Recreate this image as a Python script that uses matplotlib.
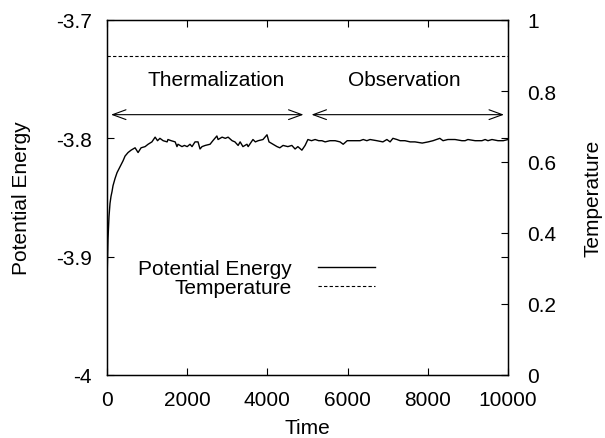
import matplotlib
matplotlib.use("Agg")
import matplotlib.pyplot as plt
from matplotlib.ticker import FormatStrFormatter

plt.rcParams['font.family'] = ['Liberation Sans', 'DejaVu Sans']
plt.rcParams['axes.unicode_minus'] = False

# ---- data ----
time = [0, 25, 50, 75, 100, 125, 150, 200, 250, 325,
        400, 450, 525, 600, 650, 700, 775, 850, 950, 1025,
        1120, 1200, 1260, 1320, 1400, 1500, 1520, 1600, 1700, 1745,
        1770, 1870, 1930, 2000, 2070, 2120, 2195, 2270, 2320, 2370,
        2450, 2570, 2640, 2740, 2770, 2870, 2950, 3020, 3120, 3190,
        3270, 3320, 3390, 3490, 3520, 3640, 3700, 3770, 3890, 3990,
        4040, 4140, 4240, 4310, 4390, 4510, 4610, 4690, 4760, 4860,
        4940, 5010, 5100, 5190, 5280, 5360, 5440, 5560, 5690, 5810,
        5890, 5990, 6140, 6310, 6390, 6480, 6560, 6730, 6880, 6980,
        7060, 7130, 7230, 7310, 7430, 7560, 7680, 7860, 8010, 8130,
        8300, 8380, 8500, 8680, 8850, 8930, 9000, 9180, 9350, 9430,
        9500, 9600, 9750, 9880, 10000]
energy = [-3.922, -3.885, -3.866, -3.855, -3.849, -3.845, -3.840, -3.834, -3.829, -3.824,
          -3.819, -3.815, -3.812, -3.810, -3.809, -3.808, -3.812, -3.808, -3.807, -3.805,
          -3.803, -3.799, -3.802, -3.800, -3.802, -3.803, -3.801, -3.802, -3.803, -3.807,
          -3.805, -3.807, -3.806, -3.807, -3.805, -3.807, -3.803, -3.803, -3.809, -3.807,
          -3.806, -3.805, -3.802, -3.798, -3.801, -3.799, -3.800, -3.799, -3.802, -3.803,
          -3.806, -3.803, -3.807, -3.805, -3.807, -3.801, -3.803, -3.802, -3.801, -3.797,
          -3.803, -3.805, -3.807, -3.808, -3.806, -3.807, -3.806, -3.809, -3.807, -3.810,
          -3.806, -3.801, -3.802, -3.801, -3.802, -3.802, -3.803, -3.802, -3.802, -3.803,
          -3.805, -3.802, -3.802, -3.802, -3.801, -3.802, -3.801, -3.802, -3.803, -3.801,
          -3.803, -3.800, -3.801, -3.802, -3.802, -3.803, -3.803, -3.804, -3.803, -3.802,
          -3.800, -3.802, -3.801, -3.801, -3.802, -3.802, -3.801, -3.802, -3.802, -3.801,
          -3.802, -3.801, -3.802, -3.802, -3.801]
assert len(time) == len(energy)

temp_time = [0, 10000]
temperature = [0.9, 0.9]

# phases: (label, arrow start, arrow end, label x)
phases = [("Thermalization", 100, 4900, 1000),
          ("Observation", 5100, 9900, 6000)]
arrow_y = -3.78
label_y = -3.75

xticks = [0, 2000, 4000, 6000, 8000, 10000]
eticks = [-4, -3.9, -3.8, -3.7]
tticks = [0, 0.2, 0.4, 0.6, 0.8, 1]

FS = 15

fig = plt.figure(figsize=(6.05, 4.39), dpi=100)
ax = fig.add_axes([107/605, 63/439, 401/605, 355/439])
ax2 = ax.twinx()

l1, = ax.plot(time, energy, color="black", lw=1.0, label="Potential Energy")
l2, = ax2.plot(temp_time, temperature, color="black", lw=0.8,
               dashes=(3, 2), label="Temperature")

for name, a, b, xl in phases:
    ax.annotate("", xy=(b, arrow_y), xytext=(a, arrow_y),
                arrowprops=dict(arrowstyle="<->,head_length=0.6,head_width=0.22",
                                color="black", lw=0.8, shrinkA=0, shrinkB=0,
                                mutation_scale=16))
    ax.text(xl, label_y, name, fontsize=FS, ha="left", va="center")

ax.set_xlim(0, 10000)
ax.set_ylim(-4, -3.7)
ax2.set_ylim(0, 1)
ax.set_xticks(xticks)
ax.set_yticks(eticks)
ax2.set_yticks(tticks)
ax.yaxis.set_major_formatter(FormatStrFormatter('%g'))
ax2.yaxis.set_major_formatter(FormatStrFormatter('%g'))

ax.tick_params(direction="in", length=5, width=0.8, labelsize=FS,
               top=True, right=True, pad=11)
ax.tick_params(axis="y", pad=11)
ax2.tick_params(direction="in", length=5, width=0.8, labelsize=FS, pad=14)
for sp in ax.spines.values():
    sp.set_linewidth(1.0)

ax.set_xlabel("Time", fontsize=FS, va="center")
ax.xaxis.set_label_coords(0.5, -0.147)
ax.set_ylabel("Potential Energy", fontsize=FS, va="center")
ax.yaxis.set_label_coords(-0.212, 0.5)
ax2.set_ylabel("Temperature", fontsize=FS, va="center")
ax2.yaxis.set_label_coords(1.212, 0.5)

leg = ax2.legend([l1, l2], ["Potential Energy", "Temperature"], fontsize=FS,
                 frameon=False, markerfirst=False, loc="center right",
                 bbox_to_anchor=(0.668, 0.272), borderpad=0, borderaxespad=0,
                 handlelength=2.74, handletextpad=1.25, labelspacing=0.0)

fig.savefig("out.png", dpi=100)
